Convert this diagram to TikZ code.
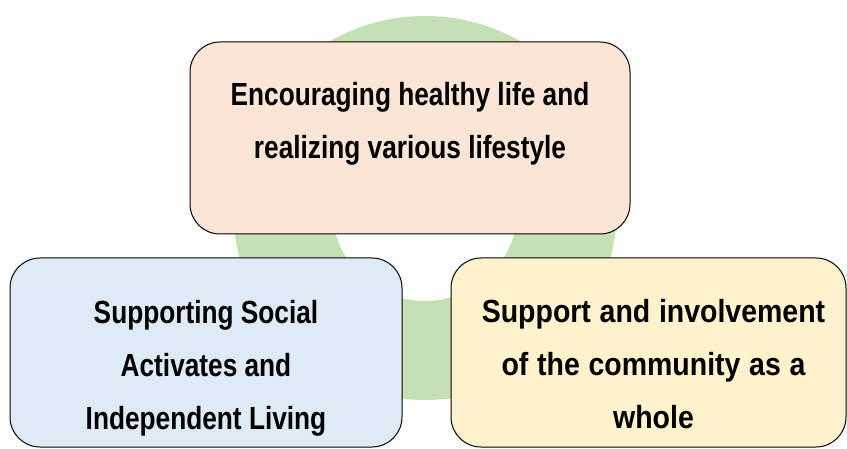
\documentclass[tikz,border=0pt]{standalone}
\usepackage{fontspec}
\setmainfont{Liberation Sans}[FakeStretch=0.82]
\newfontfamily\widefont{Liberation Sans}[FakeStretch=0.89,WordSpace=1.1]
\definecolor{ringgreen}{HTML}{C5E0B4}
\definecolor{peach}{HTML}{FBE5D6}
\definecolor{paleblue}{HTML}{DEEBF7}
\definecolor{paleyellow}{HTML}{FFF2CC}
\begin{document}
\begin{tikzpicture}[x=1pt,y=1pt,
   box/.style={draw=black,line width=1pt,rounded corners=30pt,inner sep=0pt},
   txt/.style={align=center,font=\fontsize{32}{53}\selectfont\bfseries}]
   \useasboundingbox (0,0) rectangle (847,448);

   % 背景の輪
   \fill[ringgreen,even odd rule] (425,240) circle (192) (425,240) circle (93);

   % 枠
   \node[box,fill=peach,minimum width=440pt,minimum height=192pt] (health) at (410,310) {};
   \node[box,fill=paleblue,minimum width=392pt,minimum height=189pt] (social) at (206,95.5) {};
   \node[box,fill=paleyellow,minimum width=395pt,minimum height=189pt] (community) at (648.5,95.5) {};

   % 文字
   \node[txt] (healthtxt) at ([yshift=14.5pt]health.center) {Encouraging healthy life and\\realizing various lifestyle};
   \node[txt] (socialtxt) at ([yshift=-15.5pt]social.center) {Supporting Social\\Activates and\\Independent Living};
   \node[txt,font=\fontsize{32}{53}\widefont\bfseries] (communitytxt) at ([yshift=-12pt,xshift=5pt]community.center) {Support and involvement\\of the community as a\\whole};

\end{tikzpicture}
\end{document}
